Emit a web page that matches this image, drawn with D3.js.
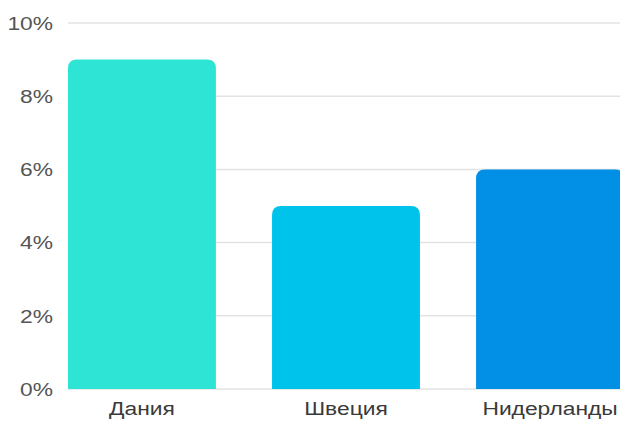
<!DOCTYPE html>
<html>
<head>
<meta charset="utf-8">
<script src="https://cdn.jsdelivr.net/npm/d3@7"></script>
<style>
  body { margin: 0; background: #fff; }
  svg { display: block; font-family: "Liberation Sans", Arial, sans-serif; }
</style>
</head>
<body>
<div id="chart"></div>
<script>
var countries = ["Дания", "Швеция", "Нидерланды"];
var shares = [9, 5, 6];
var barColors = ["#2ee5d5", "#00c3ec", "#0190e6"];
var yTicks = [0, 2, 4, 6, 8, 10];

var width = 620, height = 421;
var stretch = 1.2; // text in the picture is drawn a bit wide

var svg = d3.select("#chart")
    .append("svg")
    .attr("width", width)
    .attr("height", height);

var x = d3.scaleBand()
    .domain(countries)
    .range([68, 624])
    .paddingInner(0.275)
    .paddingOuter(0);

var y = d3.scaleLinear()
    .domain([0, 10])
    .range([389, 23]);

// grid lines
svg.selectAll("line.grid")
    .data(yTicks)
    .enter()
    .append("line")
    .attr("class", "grid")
    .attr("x1", 68)
    .attr("x2", width)
    .attr("y1", function(d) { return y(d); })
    .attr("y2", function(d) { return y(d); })
    .attr("stroke", "#e3e3e3")
    .attr("stroke-width", 1.5);

// y tick labels
svg.selectAll("text.ytick")
    .data(yTicks)
    .enter()
    .append("text")
    .attr("class", "ytick")
    .attr("transform", function(d) {
        return "translate(53," + (y(d) + 6.8) + ") scale(" + stretch + ",1)";
    })
    .attr("text-anchor", "end")
    .attr("fill", "#555")
    .attr("font-size", 19)
    .text(function(d) { return d + "%"; });

// bars with rounded tops
function barPath(x0, y0, w, y1, r) {
    return "M" + x0 + "," + y1 +
        "V" + (y0 + r) +
        "Q" + x0 + "," + y0 + " " + (x0 + r) + "," + y0 +
        "H" + (x0 + w - r) +
        "Q" + (x0 + w) + "," + y0 + " " + (x0 + w) + "," + (y0 + r) +
        "V" + y1 + "Z";
}

svg.selectAll("path.bar")
    .data(countries)
    .enter()
    .append("path")
    .attr("class", "bar")
    .attr("fill", function(d, i) { return barColors[i]; })
    .attr("d", function(d, i) {
        return barPath(x(d), y(shares[i]), x.bandwidth(), y(0), 9);
    });

// x labels
svg.selectAll("text.xlabel")
    .data(countries)
    .enter()
    .append("text")
    .attr("class", "xlabel")
    .attr("transform", function(d) {
        return "translate(" + (x(d) + x.bandwidth() / 2) + ",415) scale(" + stretch + ",1)";
    })
    .attr("text-anchor", "middle")
    .attr("fill", "#3a3a3a")
    .attr("font-size", 19)
    .text(function(d) { return d; });
</script>
</body>
</html>
